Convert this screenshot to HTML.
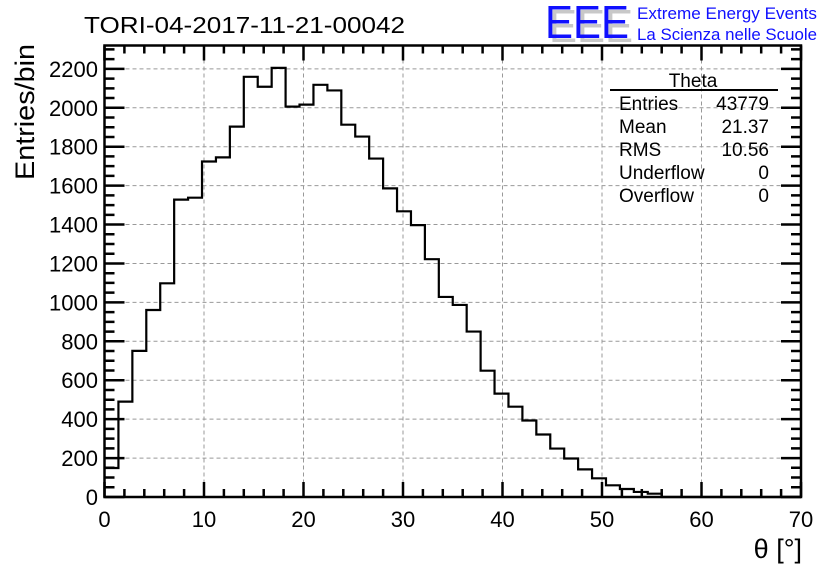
<!DOCTYPE html>
<html><head><meta charset="utf-8"><style>
html,body{margin:0;padding:0;background:#fff;}
svg{display:block;font-family:"Liberation Sans",Arial,sans-serif;}
</style></head><body>
<svg id="chart" width="836" height="572" viewBox="0 0 836 572" xmlns="http://www.w3.org/2000/svg">
<rect width="836" height="572" fill="#fff"/>
<g id="grid"></g>
<g id="hist"></g>
<g id="axes"></g>
<text x="84" y="33" font-size="23" textLength="321" lengthAdjust="spacingAndGlyphs">TORI-04-2017-11-21-00042</text>
<text transform="translate(34,180) rotate(-90)" font-size="27" textLength="136" lengthAdjust="spacingAndGlyphs">Entries/bin</text>
<text x="802" y="558" font-size="27" text-anchor="end">θ [°]</text>
<g>
<text x="549" y="42" font-size="46" fill="#c8c8c8" textLength="84" lengthAdjust="spacingAndGlyphs">EEE</text>
<text x="545" y="38" font-size="46" fill="#1010ff" textLength="84" lengthAdjust="spacingAndGlyphs">EEE</text>
<text x="637" y="19" font-size="16.5" fill="#1010ff" textLength="180" lengthAdjust="spacingAndGlyphs">Extreme Energy Events</text>
<text x="637" y="40" font-size="16.5" fill="#1010ff" textLength="180" lengthAdjust="spacingAndGlyphs">La Scienza nelle Scuole</text>
</g>
<g font-size="19">
<text x="693" y="87" text-anchor="middle">Theta</text>
<line x1="610" y1="90" x2="778" y2="90" stroke="#000" stroke-width="2"/>
<text x="619" y="110">Entries</text><text x="769" y="110" text-anchor="end">43779</text>
<text x="619" y="133">Mean</text><text x="769" y="133" text-anchor="end">21.37</text>
<text x="619" y="156">RMS</text><text x="769" y="156" text-anchor="end">10.56</text>
<text x="619" y="179">Underflow</text><text x="769" y="179" text-anchor="end">0</text>
<text x="619" y="202">Overflow</text><text x="769" y="202" text-anchor="end">0</text>
</g>
</svg>
<script>
const binWidth = 1.4;
const counts = [149,490,751,961,1098,1528,1538,1724,1745,1903,2159,2108,2205,2006,2016,2118,2089,1913,1852,1739,1586,1468,1397,1222,1028,987,850,649,531,464,393,321,249,198,142,96,60,41,26,17,0,0,0,0,0,0,0,0,0,0];
const xTicks = [0,10,20,30,40,50,60,70];
const yTicks = [0,200,400,600,800,1000,1200,1400,1600,1800,2000,2200];

const L=104.5,R=801,T=45.5,B=497;
const xMin=0,xMax=70,yMin=0,yMax=2320;
function X(v){return L+(v-xMin)/(xMax-xMin)*(R-L);}
function Y(v){return B-(v-yMin)/(yMax-yMin)*(B-T);}
const NS="http://www.w3.org/2000/svg";
function mk(tag,attrs,parent){const e=document.createElementNS(NS,tag);for(const k in attrs)e.setAttribute(k,attrs[k]);parent.appendChild(e);return e;}
const grid=document.getElementById('grid'),hist=document.getElementById('hist'),axes=document.getElementById('axes');

xTicks.forEach(v=>{if(v>xMin&&v<xMax){const g=mk('line',{x1:X(v),x2:X(v),y1:T,y2:B,stroke:'#999','stroke-dasharray':'4,3','stroke-width':1},grid);

}});
yTicks.forEach(v=>{if(v>yMin){const g=mk('line',{x1:L,x2:R,y1:Y(v),y2:Y(v),stroke:'#999','stroke-dasharray':'4,3','stroke-width':1},grid);

}});

let d='M'+X(0)+','+Y(counts[0]);
counts.forEach((c,i)=>{d+=' L'+X(i*binWidth)+','+Y(c)+' L'+X((i+1)*binWidth)+','+Y(c);});
const p=mk('path',{d:d,fill:'none',stroke:'#000','stroke-width':2.2},hist);



const fr=mk('rect',{x:L,y:T,width:R-L,height:B-T,fill:'none',stroke:'#000','stroke-width':2.5},axes);


let td='';
for(let v=xMin;v<=xMax;v+=2){const len=(v%10===0)?15:8;const x=X(v);td+=`M${x},${B}V${B-len}M${x},${T}V${T+len}`;}
for(let v=yMin;v<=yMax;v+=50){const len=(v%200===0)?20:10;const y=Y(v);td+=`M${L},${y}H${L+len}M${R},${y}H${R-len}`;}
const tk=mk('path',{d:td,stroke:'#000','stroke-width':2.5,fill:'none'},axes);


xTicks.forEach(v=>{const t=mk('text',{x:X(v),y:527,'font-size':22,'text-anchor':'middle'},axes);t.textContent=v;

});
yTicks.forEach(v=>{const t=mk('text',{x:98,y:Y(v)+8,'font-size':22,'text-anchor':'end'},axes);t.textContent=v;

});
</script>
</body></html>
